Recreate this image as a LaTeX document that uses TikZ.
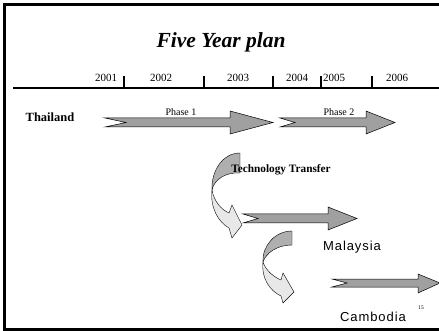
\documentclass[tikz,border=0pt]{standalone}
\usepackage{fontspec}
\setmainfont{Liberation Serif}
\newfontfamily\arialf{Liberation Sans}
\definecolor{arrowgray}{RGB}{160,160,160}
\definecolor{darkband}{RGB}{175,175,175}
\definecolor{lightband}{RGB}{232,232,232}
\begin{document}
\begin{tikzpicture}[x=1pt,y=-1pt,
  frame/.style={line width=3pt},
  axis/.style={line width=1.4pt},
  yearlbl/.style={font=\fontsize{11}{12}\selectfont, inner sep=0pt},
  straightarrow/.style={draw=black, line width=0.5pt, fill=arrowgray, line join=miter},
  darkpart/.style={draw=black, line width=0.4pt, fill=darkband},
  lightpart/.style={draw=black, line width=0.4pt, fill=lightband},
  phaselbl/.style={font=\fontsize{10}{12}\selectfont, inner sep=0pt},
  countrylbl/.style={font=\arialf\addfontfeature{LetterSpace=7}\fontsize{13}{15}\selectfont, inner sep=0pt}
]
\useasboundingbox (0,0) rectangle (439,331);
\fill[white] (0,0) rectangle (439,331);
% frame
\draw[frame] (439,5) -- (4,5) -- (4,329) -- (439,329);
% title
\node[font=\bfseries\itshape\fontsize{21.5}{24}\selectfont, inner sep=0pt, anchor=base] (title) at (221,48) {Five Year plan};
% timeline
\draw[axis] (13,88) -- (439,88);
\foreach \tx in {124,204,273,321,372} \draw[axis] (\tx,76) -- (\tx,88);
\node[yearlbl] (y1) at (106,78) {2001};
\node[yearlbl] (y2) at (161,78) {2002};
\node[yearlbl] (y3) at (238,78) {2003};
\node[yearlbl] (y4) at (297,78) {2004};
\node[yearlbl] (y5) at (334,78) {2005};
\node[yearlbl] (y6) at (397,78) {2006};
% Thailand
\node[font=\bfseries\fontsize{12.5}{14}\selectfont, inner sep=0pt] (thai) at (50,117) {Thailand};
% Phase 1 arrow
\draw[straightarrow] (105,118) -- (230,118) -- (230,111) -- (273,122.5) -- (230,134) -- (230,127) -- (105,127) -- (126,122.5) -- cycle;
\node[phaselbl] (p1) at (181,112) {Phase 1};
% Phase 2 arrow
\draw[straightarrow] (280,118) -- (366,118) -- (366,111) -- (395,122.5) -- (366,134) -- (366,127) -- (280,127) -- (295,122.5) -- cycle;
\node[phaselbl] (p2) at (339,112) {Phase 2};
% curved arrow 1
\draw[darkpart] (240,153) -- (240,173) .. controls (225,172) and (214,180) .. (212,190)
   .. controls (211,172) and (222,153) .. cycle;
\draw[lightpart] (212,190) .. controls (210,207) and (218,222) .. (229,228) -- (232,238) -- (242,225) -- (232,205) -- (229,213)
   .. controls (222,210) and (214,202) .. cycle;
\node[font=\bfseries\fontsize{11.3}{12}\selectfont, inner sep=0pt] (tt) at (281,170) {Technology Transfer};
% Malaysia arrow
\draw[straightarrow] (243,214) -- (328,214) -- (328,207) -- (357,218.5) -- (328,230) -- (328,223) -- (243,223) -- (258,218.5) -- cycle;
\node[countrylbl] (my) at (352,247) {Malaysia};
% curved arrow 2
\draw[darkpart] (292,231) -- (292,245) .. controls (277,245) and (266,253) .. (263,262)
   .. controls (262,246) and (275,231) .. cycle;
\draw[lightpart] (263,262) .. controls (261,278) and (270,291) .. (281,296) -- (283,303) -- (294,292) -- (283,273) -- (281,280)
   .. controls (274,277) and (266,271) .. cycle;
% Cambodia arrow
\draw[straightarrow] (332,279) -- (418,279) -- (418,274) -- (440,283) -- (418,293) -- (418,287) -- (332,287) -- (347,283) -- cycle;
\node[countrylbl] (kh) at (373,317) {Cambodia};
\node[font=\fontsize{5.5}{6}\selectfont, inner sep=0pt] (fn) at (421,308) {15};
\end{tikzpicture}
\end{document}
